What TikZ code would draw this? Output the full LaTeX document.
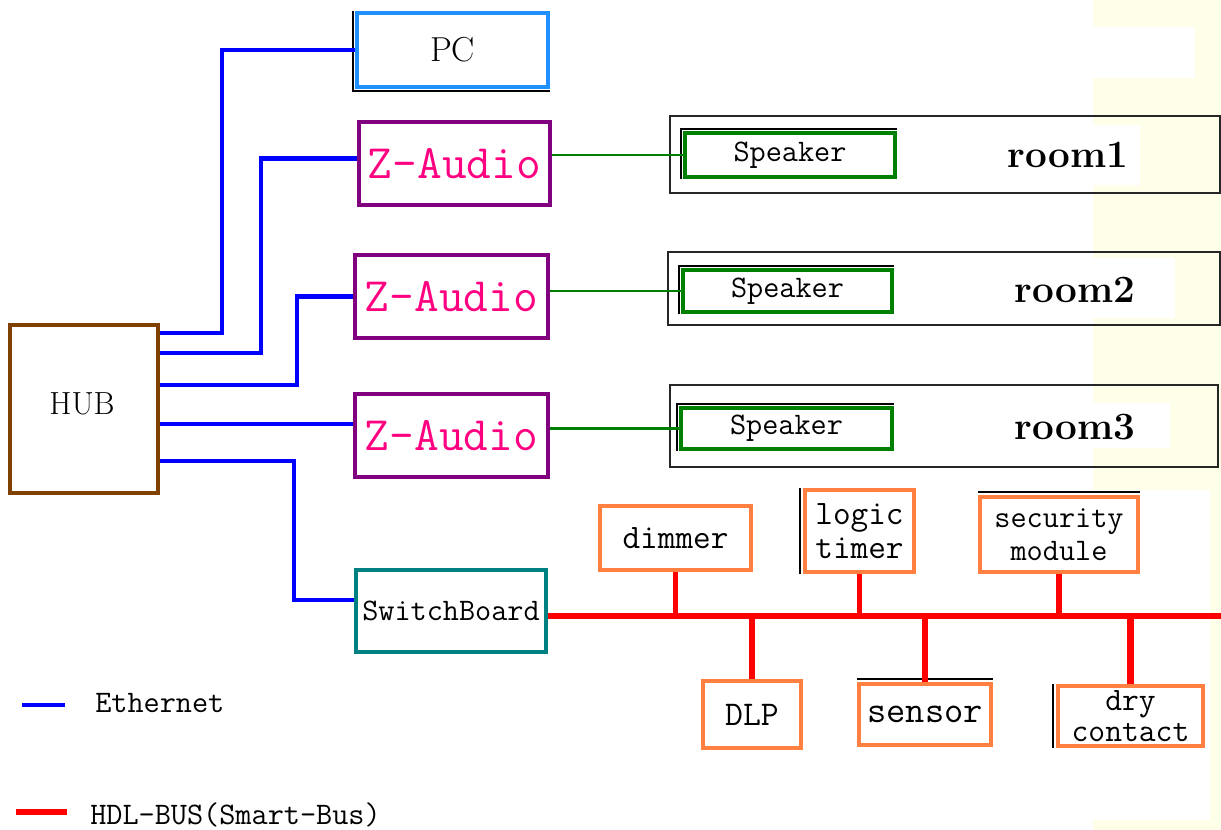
\documentclass[tikz,border=0pt]{standalone}
\usepackage{fontspec}
\usetikzlibrary{calc}
\definecolor{ethblue}{RGB}{0,0,255}
\definecolor{busred}{RGB}{255,0,0}
\definecolor{spgreen}{RGB}{0,128,0}
\definecolor{pcblue}{RGB}{30,144,255}
\definecolor{zpurple}{RGB}{128,0,128}
\definecolor{zpink}{RGB}{255,0,128}
\definecolor{hubbrown}{RGB}{128,64,0}
\definecolor{sbteal}{RGB}{0,128,128}
\definecolor{devorange}{RGB}{255,128,64}
\definecolor{bgyellow}{RGB}{255,254,232}
\newcommand{\fsz}[2]{\fontsize{#1}{#2}\selectfont}
\begin{document}
\begin{tikzpicture}[x=0.75pt,y=-0.75pt,
  mybox/.style={draw, line width=2.8pt, inner sep=0pt, align=center},
  roombox/.style={draw=black!85, line width=1.3pt, inner sep=0pt},
  zbox/.style={mybox, draw=zpurple, text=zpink, font=\ttfamily\fsz{36}{40}},
  spbox/.style={mybox, draw=spgreen, font=\ttfamily\fsz{23.5}{26}},
  devbox/.style={mybox, draw=devorange, font=\ttfamily\fsz{25.7}{26}},
  roomlabel/.style={inner sep=0pt, font=\bfseries\fsz{29}{30}},
  eth/.style={draw=ethblue, line width=3.4pt},
  bus/.style={draw=busred, line width=3.8pt},
  spline/.style={draw=spgreen, line width=2.2pt},
  shadowline/.style={draw=black, line width=1.2pt},
  legendtext/.style={inner sep=0pt, anchor=west, font=\ttfamily\fsz{23.5}{26}}
]
\useasboundingbox (0,0) rectangle (1221,830);
% faint yellow strip at the right edge
\fill[bgyellow] (1093,0) rectangle (1221,830);
\fill[white] (1093,27) rectangle (1195,78);
\fill[white] (1093,125) rectangle (1140,185);
\fill[white] (1093,258) rectangle (1175,318);
\fill[white] (1093,403) rectangle (1170,448);
\fill[white] (1093,490) rectangle (1210,820);

% main boxes
\node[mybox, draw=pcblue, minimum width=143.25pt, minimum height=55.5pt, font=\fsz{26}{28}] (pc) at (452.5,50) {PC};
\node[zbox, minimum width=143.25pt, minimum height=62.25pt] (za1) at (454.5,163.5) {Z-Audio};
\node[zbox, minimum width=144.75pt, minimum height=62.25pt] (za2) at (451.5,296.5) {Z-Audio};
\node[zbox, minimum width=144.75pt, minimum height=62.25pt] (za3) at (451.5,435.5) {Z-Audio};
\node[mybox, draw=hubbrown, minimum width=111pt, minimum height=126pt] (hub) at (84,409) {};
\node[inner sep=0pt, font=\fsz{24}{24}] (hubtext) at (82,404) {HUB};
\node[mybox, draw=sbteal, minimum width=142.5pt, minimum height=61.5pt, font=\ttfamily\fsz{23.5}{26}] (sb) at (451,611) {SwitchBoard};

% rooms
\node[roombox, minimum width=412.5pt, minimum height=57.75pt] (room1) at (945,154.5) {};
\node[roombox, minimum width=414pt, minimum height=54.75pt] (room2) at (944,288.5) {};
\node[roombox, minimum width=411pt, minimum height=61.5pt] (room3) at (944,426) {};
\node[spbox, minimum width=157.5pt, minimum height=33pt] (sp1) at (790,155) {Speaker};
\node[spbox, minimum width=156.75pt, minimum height=31.5pt] (sp2) at (787.5,291) {Speaker};
\node[spbox, minimum width=158.25pt, minimum height=30.75pt] (sp3) at (786.5,428.5) {Speaker};
\node[roomlabel] (r1) at (1068,155) {room1};
\node[roomlabel] (r2) at (1075,290) {room2};
\node[roomlabel] (r3) at (1075,427) {room3};

% bus devices
\node[devbox, minimum width=113.25pt, minimum height=48pt] (dimmer) at (675.5,538) {dimmer};
\node[devbox, minimum width=81.75pt, minimum height=61.5pt] (logic) at (859.5,531) {logic\\timer};
\node[devbox, minimum width=118.5pt, minimum height=56.25pt, font=\ttfamily\fsz{23.5}{25}] (security) at (1059,534.5) {security\\module};
\node[devbox, minimum width=73.5pt, minimum height=50.25pt, font=\ttfamily\fsz{26}{26}] (dlp) at (752,714.5) {DLP};
\node[devbox, minimum width=99pt, minimum height=45.75pt, font=\ttfamily\fsz{28}{28}] (sensor) at (925,714.5) {sensor};
\node[devbox, minimum width=108.75pt, minimum height=45pt, font=\ttfamily\fsz{24.5}{23.5}] (dry) at (1130.5,716) {dry\\contact};

% shadow edges
\draw[shadowline] ($(pc.north west)+(-2,0)$) -- ($(pc.south west)+(-2,2)$) -- ($(pc.south east)+(0,2)$);
\foreach \s in {sp1,sp2,sp3}{
  \draw[shadowline] ($(\s.south west)+(-2,0)$) -- ($(\s.north west)+(-2,-2)$) -- ($(\s.north east)+(0,-2)$);
}
\draw[shadowline] ($(logic.south west)+(-3,0)$) -- ($(logic.north west)+(-3,0)$);
\draw[shadowline] ($(security.north west)+(0,-3)$) -- ($(security.north east)+(0,-3)$);
\draw[shadowline] ($(sensor.north west)+(0,-3)$) -- ($(sensor.north east)+(0,-3)$);
\draw[shadowline] ($(dry.south west)+(-3,0)$) -- ($(dry.north west)+(-3,0)$);

% ethernet
\draw[eth] ($(hub.north east)+(0,10)$) -| ($(pc.west)+(-133,0)$) -- (pc.west);
\draw[eth] ($(hub.north east)+(0,30)$) -| ($(za1.west)+(-96,-5)$) -- ($(za1.west)+(0,-5)$);
\draw[eth] ($(hub.north east)+(0,62)$) -| ($(za2.west)+(-56,0)$) -- (za2.west);
\draw[eth] ($(hub.north east)+(0,101)$) coordinate (h4) -- (h4 -| za3.west);
\draw[eth] ($(hub.north east)+(0,138)$) -| ($(sb.west)+(-60,-11)$) -- ($(sb.west)+(0,-11)$);

% speaker lines
\draw[spline] (za1.east |- sp1.west) -- (sp1.west);
\draw[spline] (za2.east |- sp2.west) -- (sp2.west);
\draw[spline] (za3.east |- sp3.west) -- (sp3.west);

% HDL bus
\coordinate (busR) at (1221,616);
\draw[bus] (sb.east |- busR) -- (busR);
\draw[bus] (dimmer.south) -- (dimmer.south |- busR);
\draw[bus] (logic.south) -- (logic.south |- busR);
\draw[bus] (security.south) -- (security.south |- busR);
\draw[bus] (dlp.north) -- (dlp.north |- busR);
\draw[bus] (sensor.north) -- (sensor.north |- busR);
\draw[bus, line width=4.8pt] (dry.north) -- (dry.north |- busR);

% legend
\coordinate (e1) at (22,705);
\coordinate (e2) at (65,705);
\draw[eth] (e1) -- (e2);
\node[legendtext] (ethlbl) at (95,703) {Ethernet};
\coordinate (h1) at (16,812);
\coordinate (h2) at (67,812);
\draw[bus] (h1) -- (h2);
\node[legendtext] (buslbl) at (90,815) {HDL-BUS(Smart-Bus)};
\end{tikzpicture}
\end{document}
